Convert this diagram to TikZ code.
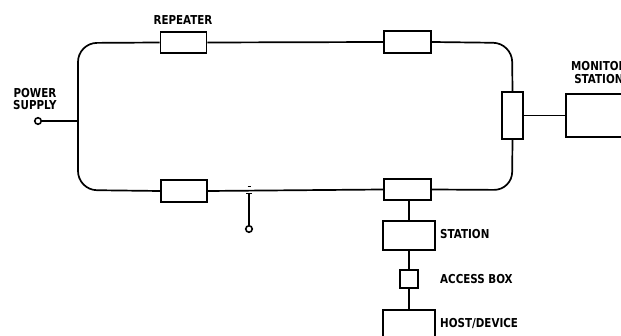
\documentclass[tikz,border=0pt]{standalone}
\usepackage{fontspec}
\setmainfont{DejaVu Sans}[FakeStretch=0.84]
\begin{document}
\begin{tikzpicture}[x=1pt,y=-1pt,
  wire/.style={line width=1.7pt},
  boxed/.style={draw,line width=1.9pt,inner sep=0pt},
  lbl/.style={font=\bfseries\fontsize{12.3}{12.5}\selectfont,inner sep=0pt,align=center},
  term/.style={draw,circle,line width=1.6pt,minimum size=6.5pt,inner sep=0pt,fill=white}]
\useasboundingbox (0,0) rectangle (621,336);
% repeaters
\node[boxed,minimum width=46pt,minimum height=21pt] (r1) at (183.5,42.5) {};
\node[boxed,minimum width=47pt,minimum height=22pt] (r2) at (407.5,42) {};
\node[boxed,minimum width=21pt,minimum height=47pt] (r3) at (512.5,115.5) {};
\node[boxed,minimum width=47pt,minimum height=21pt] (r4) at (407.5,189.5) {};
\node[boxed,minimum width=46pt,minimum height=22pt] (r5) at (184,191) {};
% stations
\node[boxed,minimum width=60pt,minimum height=43pt,anchor=west] (mon) at (565,115.5) {};
\node[boxed,minimum width=52pt,minimum height=29pt] (sta) at (409,235.5) {};
\node[boxed,minimum width=18pt,minimum height=18pt] (acc) at (409,279) {};
\node[boxed,minimum width=52pt,minimum height=40pt,anchor=north] (host) at (409,309) {};
% terminals
\node[term] (ps) at (38,121) {};
\node[term] (tp) at (249,229) {};
\coordinate (psj) at (78,121);
\coordinate (tpt) at (249,194);
% ring
\draw[wire,rounded corners=19pt] (r1.west) -- (78,43) -- (78,190) -- (r5.west);
\draw[wire] (r1.east) -- (r2.west);
\draw[wire,rounded corners=19pt] (r2.east) -- (512,43) -- (r3.north);
\draw[wire,rounded corners=18pt] (r3.south) -- (512,190) -- (r4.east);
\draw[wire] (r5.east) -- (r4.west);
% branches
\draw[wire] (r3.east) -- (mon.west);
\draw[wire] (r4.south -| sta.north) -- (sta.north);
\draw[wire] (sta.south) -- (acc.north);
\draw[wire] (acc.south) -- (host.north);
\draw[wire] (ps) -- (psj);
\draw[wire] (tpt) -- (tp);
\draw[wire] (246,193.5) -- (252,193.5);
\draw[line width=0.9pt] (247.5,186.5) -- (250.5,186.5);
% labels
\node[lbl] (lrep) at (183,20) {REPEATER};
\node[lbl,anchor=west] (lps) at (13,99) {POWER\\SUPPLY};
\node[lbl,anchor=west] (lmon) at (571,72.5) {MONITOR\\STATION};
\node[lbl,anchor=west] (lsta) at (440,234.5) {STATION};
\node[lbl,anchor=west] (lacc) at (440,279) {ACCESS BOX};
\node[lbl,anchor=west] (lhost) at (440,323.5) {HOST/DEVICE};
\end{tikzpicture}
\end{document}
